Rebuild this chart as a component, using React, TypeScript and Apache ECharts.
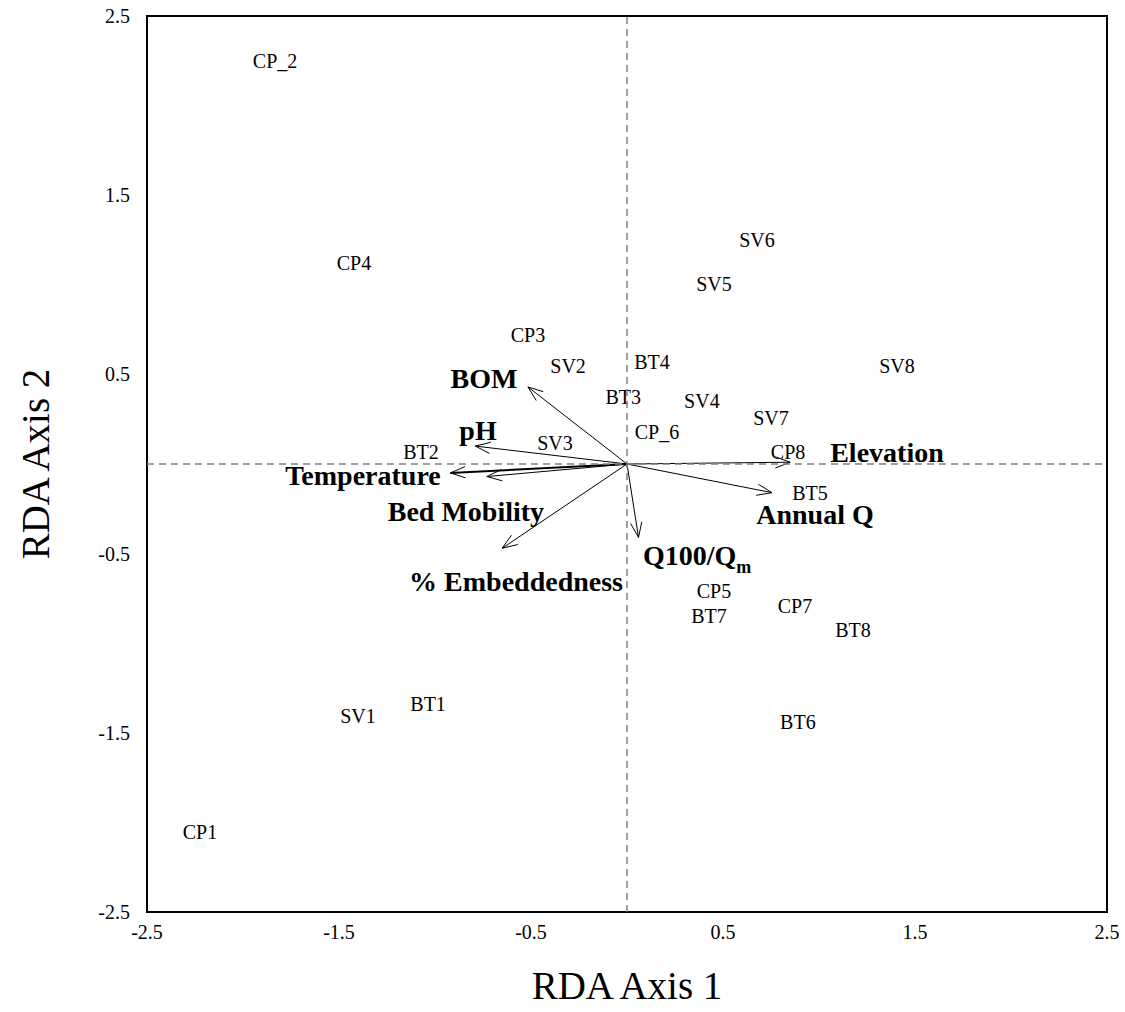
import React, { useEffect, useRef } from "react";
import * as echarts from "echarts";

// Sample (site) scores
const siteNames = ["CP_2", "CP4", "CP3", "SV2", "BT4", "BT3", "SV4", "SV7", "CP_6", "CP8", "SV3", "BT2", "BT5", "SV6", "SV5", "SV8", "CP5", "BT7", "CP7", "BT8", "BT6", "BT1", "SV1", "CP1"];
const siteX = [-1.833, -1.422, -0.516, -0.307, 0.13, -0.02, 0.39, 0.75, 0.156, 0.839, -0.375, -1.073, 0.953, 0.677, 0.453, 1.406, 0.453, 0.427, 0.875, 1.177, 0.89, -1.036, -1.401, -2.224];
const siteY = [2.249, 1.122, 0.72, 0.547, 0.569, 0.374, 0.352, 0.257, 0.179, 0.067, 0.117, 0.067, -0.162, 1.25, 1.004, 0.547, -0.709, -0.848, -0.792, -0.926, -1.44, -1.339, -1.406, -2.054];

// Environmental vectors (arrow tips)
const envNames = ["BOM", "pH", "Temperature", "Bed Mobility", "% Embeddedness", "Q100/Qm", "Elevation", "Annual Q"];
const envX = [-0.516, -0.79, -0.92, -0.73, -0.65, 0.06, 0.85, 0.755];
const envY = [0.43, 0.1, -0.05, -0.07, -0.47, -0.41, 0.01, -0.16];
// Label anchors for the vectors
const envLabelX = [-0.745, -0.776, -1.375, -0.839, -0.578, 0.365, 1.354, 0.979];
const envLabelY = [0.469, 0.179, -0.067, -0.268, -0.664, -0.53, 0.056, -0.29];

const axisMin = -2.5;
const axisMax = 2.5;

const FONT = "'Liberation Serif', 'Times New Roman', serif";

export default function App() {
  const ref = useRef<HTMLDivElement>(null);
  useEffect(() => {
    if (!ref.current) return;
    const chart = echarts.init(ref.current, undefined, { renderer: "svg" });
    const tickFmt = (v: number) => (Math.abs(Math.round(v * 2)) % 2 === 1 ? v.toFixed(1) : "");
    const arrowData = envNames.map((n, i) => [envX[i], envY[i], n === "Temperature" ? 2 : 1]);
    chart.setOption({
      animation: false,
      backgroundColor: "#fff",
      grid: {
        left: 147,
        top: 16,
        width: 960,
        height: 896,
        show: true,
        borderColor: "#000",
        borderWidth: 2,
        backgroundColor: "transparent",
      },
      xAxis: {
        type: "value",
        min: axisMin,
        max: axisMax,
        interval: 0.5,
        axisLine: { show: false },
        axisTick: { show: false },
        splitLine: { show: false },
        axisLabel: {
          formatter: tickFmt,
          fontFamily: FONT,
          fontSize: 20,
          color: "#000",
          margin: 10,
          showMinLabel: true,
          showMaxLabel: true,
        },
        name: "RDA Axis 1",
        nameLocation: "middle",
        nameGap: 54,
        nameTextStyle: { fontFamily: FONT, fontSize: 39, color: "#000" },
      },
      yAxis: {
        type: "value",
        min: axisMin,
        max: axisMax,
        interval: 0.5,
        axisLine: { show: false },
        axisTick: { show: false },
        splitLine: { show: false },
        axisLabel: {
          formatter: tickFmt,
          fontFamily: FONT,
          fontSize: 20,
          color: "#000",
          margin: 17,
          showMinLabel: true,
          showMaxLabel: true,
        },
        name: "RDA Axis 2",
        nameLocation: "middle",
        nameGap: 92,
        nameTextStyle: { fontFamily: FONT, fontSize: 39, color: "#000" },
      },
      series: [
        {
          type: "scatter",
          symbolSize: 0,
          silent: true,
          itemStyle: { opacity: 1, color: "#000" },
          data: siteNames.map((n, i) => ({ name: n, value: [siteX[i], siteY[i]] })),
          label: {
            show: true,
            position: "inside",
            formatter: (p: any) => p.name,
            fontFamily: FONT,
            fontSize: 20,
            color: "#000",
            opacity: 1,
            textBorderWidth: 0,
            textBorderColor: "transparent",
          },
          markLine: {
            silent: true,
            symbol: "none",
            label: { show: false },
            lineStyle: { color: "#808080", type: [7, 5], width: 1.5, opacity: 1 },
            data: [{ xAxis: 0 }, { yAxis: 0 }],
          },
          z: 3,
        },
        {
          type: "custom",
          silent: true,
          data: arrowData,
          renderItem: (params: any, api: any) => {
            const s = api.coord([0, 0]);
            const e = api.coord([api.value(0), api.value(1)]);
            const lw = api.value(2);
            const ang = Math.atan2(e[1] - s[1], e[0] - s[0]);
            const L = 16;
            const a = 0.36;
            const p1 = [e[0] - L * Math.cos(ang - a), e[1] - L * Math.sin(ang - a)];
            const p2 = [e[0] - L * Math.cos(ang + a), e[1] - L * Math.sin(ang + a)];
            return {
              type: "group",
              children: [
                {
                  type: "line",
                  shape: { x1: s[0], y1: s[1], x2: e[0], y2: e[1] },
                  style: { stroke: "#000", lineWidth: lw },
                },
                {
                  type: "polyline",
                  shape: { points: [p1, e, p2] },
                  style: { stroke: "#000", fill: "none", lineWidth: 1 },
                },
              ],
            };
          },
          z: 4,
        },
        {
          type: "scatter",
          symbolSize: 0,
          silent: true,
          itemStyle: { opacity: 1, color: "#000" },
          data: envNames.map((n, i) => ({ name: n, value: [envLabelX[i], envLabelY[i]] })),
          label: {
            show: true,
            position: "inside",
            opacity: 1,
            textBorderWidth: 0,
            textBorderColor: "transparent",
            formatter: (p: any) =>
              p.name === "Q100/Qm" ? "{b|Q100/Q}{s|m}" : "{b|" + p.name + "}",
            rich: {
              b: {
                fontFamily: FONT,
                fontSize: 28,
                fontWeight: "bold",
                color: "#000",
                lineHeight: 30,
                verticalAlign: "top",
                textBorderWidth: 0,
              },
              s: {
                fontFamily: FONT,
                fontSize: 18,
                fontWeight: "bold",
                color: "#000",
                lineHeight: 35,
                verticalAlign: "bottom",
                textBorderWidth: 0,
              },
            },
          },
          z: 5,
        },
      ],
    });
    return () => chart.dispose();
  }, []);
  return (
    <div
      ref={ref}
      style={{ position: "fixed", left: 0, top: 0, width: 1125, height: 1012, background: "#fff" }}
    />
  );
}
